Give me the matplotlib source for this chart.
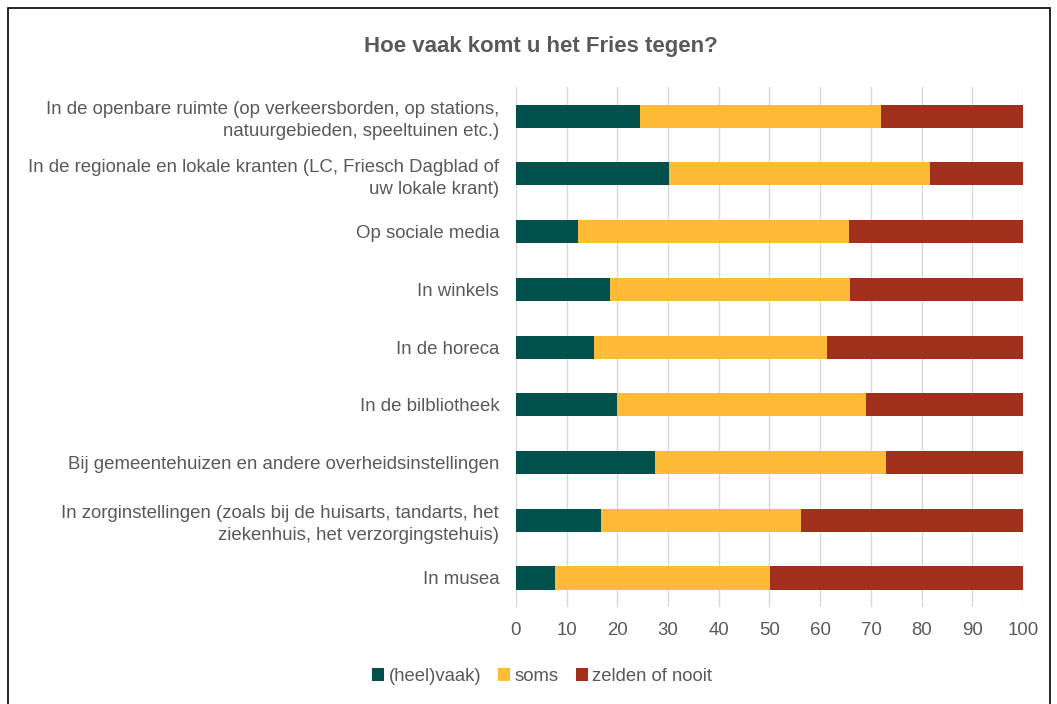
import matplotlib.pyplot as plt
from matplotlib.patches import Rectangle

plt.rcParams['font.family'] = ['Liberation Sans', 'DejaVu Sans']

categories = [
    "In de openbare ruimte (op verkeersborden, op stations,\nnatuurgebieden, speeltuinen etc.)",
    "In de regionale en lokale kranten (LC, Friesch Dagblad of\nuw lokale krant)",
    "Op sociale media",
    "In winkels",
    "In de horeca",
    "In de bilbliotheek",
    "Bij gemeentehuizen en andere overheidsinstellingen",
    "In zorginstellingen (zoals bij de huisarts, tandarts, het\nziekenhuis, het verzorgingstehuis)",
    "In musea",
]
vaak = [24.4, 30.2, 12.2, 18.6, 15.4, 20.0, 27.5, 16.8, 7.8]
soms = [47.6, 51.5, 53.5, 47.3, 46.0, 49.0, 45.5, 39.5, 42.3]
zelden = [100 - a - b for a, b in zip(vaak, soms)]

series = ["(heel)vaak)", "soms", "zelden of nooit"]
colors = ["#00504C", "#FFBB38", "#A0301B"]
grey = "#595959"

fig = plt.figure(figsize=(10.57, 7.04), dpi=100)
ax = fig.add_axes([0.488, 0.138, 0.480, 0.738])

y = list(range(len(categories)))[::-1]
left = [0] * len(categories)
for name, vals, c in zip(series, [vaak, soms, zelden], colors):
    ax.barh(y, vals, left=left, height=0.4, color=c, label=name, zorder=3)
    left = [l + v for l, v in zip(left, vals)]

ax.set_xlim(0, 100)
ax.set_ylim(-0.5, 8.5)
ax.set_xticks(range(0, 101, 10))
ax.set_yticks(y)
ax.set_yticklabels(categories, linespacing=1.38)
ax.tick_params(length=0, labelsize=13.4, colors=grey, pad=12)
ax.tick_params(axis='x', pad=11)
ax.grid(axis='x', color='#D9D9D9', linewidth=1, zorder=0)
for s in ax.spines.values():
    s.set_visible(False)

fig.text(0.512, 0.934, "Hoe vaak komt u het Fries tegen?", ha='center', va='center',
         fontsize=16, fontweight='bold', color=grey)

fig.legend(loc='center', bbox_to_anchor=(0.513, 0.039), ncol=3, frameon=False,
           fontsize=13.3, labelcolor=grey, handlelength=0.65, handleheight=0.65,
           handletextpad=0.25, columnspacing=0.9)

# outer chart border
fig.patches.append(Rectangle((8 / 1057, -0.01), 1042 / 1057, 1 - 8 / 704 + 0.01,
                             transform=fig.transFigure, fill=False,
                             edgecolor='black', linewidth=1.2))

fig.savefig("out.png", dpi=100, facecolor='white')
